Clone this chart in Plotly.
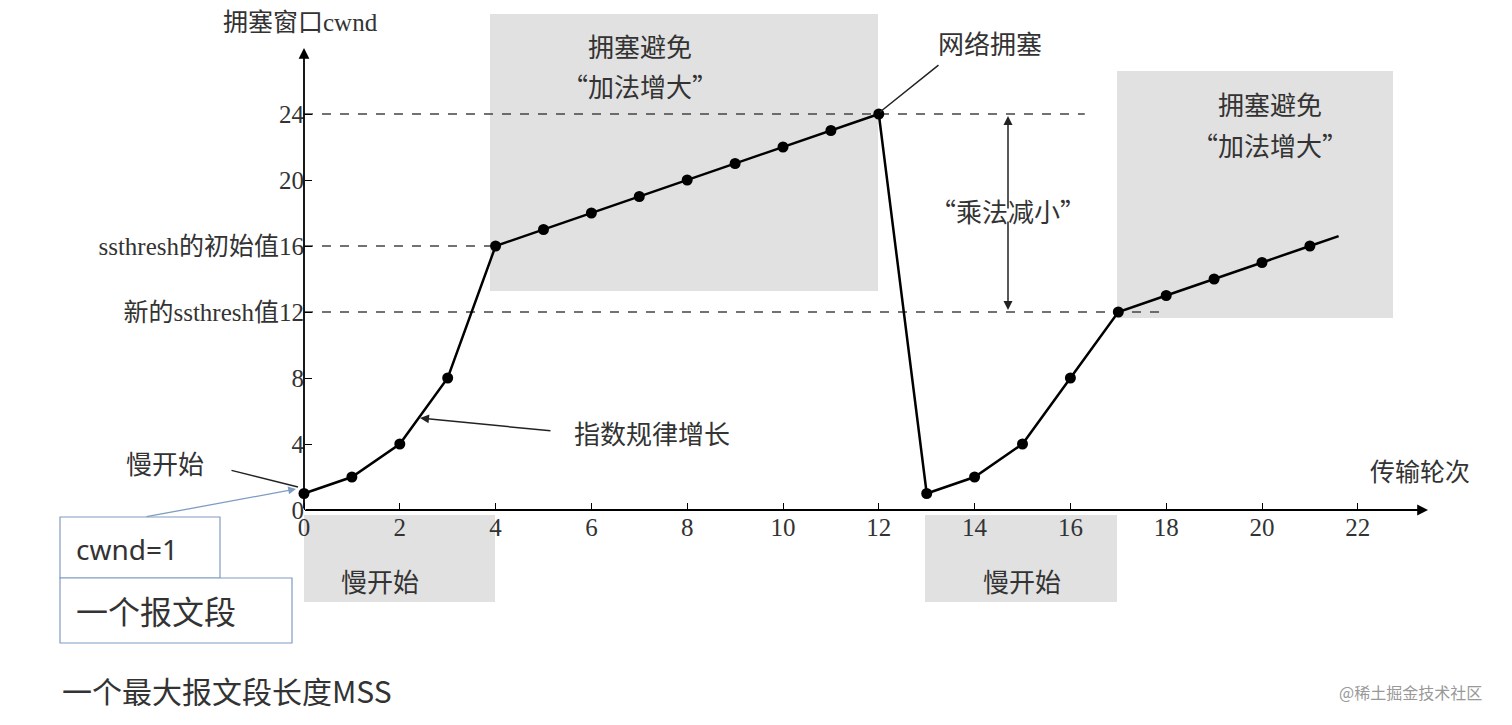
import plotly.graph_objects as go

# transmission rounds and cwnd values
rounds = [0, 1, 2, 3, 4, 5, 6, 7, 8, 9, 10, 11, 12, 13, 14, 15, 16, 17, 18, 19, 20, 21]
cwnd = [1, 2, 4, 8, 16, 17, 18, 19, 20, 21, 22, 23, 24, 1, 2, 4, 8, 12, 13, 14, 15, 16]
tail_x = [21, 21.6]
tail_y = [16, 16.6]

x_ticks = [0, 2, 4, 6, 8, 10, 12, 14, 16, 18, 20, 22]
y_ticks = [0, 4, 8, 12, 16, 20, 24]
y_ticktext = ["0", "4", "8", "新的ssthresh值12", "ssthresh的初始值16", "20", "24"]

W, H = 1512, 725
# screen pixel -> data helpers (x=0 at px 304, y=0 at px 510 on screen)
sx, sy = 47.9, 16.5
OX, OY = 296, 502  # origin in figure coordinates (page adds 8px offset)
def X(px):
    return (px - 304) / sx
def Y(py):
    return (510 - py) / sy

SERIF = "Liberation Serif, Noto Sans CJK SC"
CJK = "Noto Sans CJK SC"
TXT = "#333333"

fig = go.Figure()

# gray regions
regions = [(490, 14, 878, 291), (1117, 71, 1393, 318), (304, 515, 495, 602), (925, 515, 1117, 602)]
for x0, y0, x1, y1 in regions:
    fig.add_shape(type="rect", x0=X(x0), x1=X(x1), y0=Y(y0), y1=Y(y1),
                  fillcolor="#e1e1e1", line_width=0, layer="below")

# dashed reference lines
for yv, xend in [(24, 16.3), (16, 4), (12, 17.9)]:
    fig.add_shape(type="line", x0=0, x1=xend, y0=yv, y1=yv,
                  line=dict(color="#444", width=1.5, dash="dash"), layer="below")

fig.add_trace(go.Scatter(x=rounds, y=cwnd, mode="lines+markers",
                         line=dict(color="black", width=2.5),
                         marker=dict(color="black", size=11), hoverinfo="x+y"))
fig.add_trace(go.Scatter(x=tail_x, y=tail_y, mode="lines",
                         line=dict(color="black", width=2.5), hoverinfo="skip"))

def arrow(x0, y0, x1, y1, color="#222", width=1.5, head=2):
    fig.add_annotation(x=X(x1), y=Y(y1), ax=X(x0), ay=Y(y0), xref="x", yref="y",
                       axref="x", ayref="y", text="", showarrow=True, arrowhead=head,
                       arrowsize=1.2, arrowwidth=width, arrowcolor=color)

def label(px, py, text, size=26, family=CJK, color=TXT, xanchor="center"):
    fig.add_annotation(x=X(px), y=Y(py), text=text, showarrow=False, xanchor=xanchor,
                       font=dict(size=size, family=family, color=color))

# axes arrows
arrow(304, 510, 1428, 510, color="black", width=1.8)
arrow(304, 510, 304, 48, color="black", width=1.8)

# multiplicative decrease double arrow
arrow(1008, 210, 1008, 116)
arrow(1008, 220, 1008, 310)
label(1008, 210, "“乘法减小”")

arrow(940, 64, 880, 112, head=0)
label(990, 42, "网络拥塞")
arrow(552, 431, 420, 418)
label(652, 432, "指数规律增长")
arrow(230, 470, 298, 487, head=0)
label(165, 462, "慢开始")
label(640, 45, "拥塞避免")
label(640, 85, "“加法增大”")
label(1270, 103, "拥塞避免")
label(1270, 144, "“加法增大”")
label(380, 580, "慢开始")
label(1022, 580, "慢开始")
label(300, 22, "拥塞窗口cwnd", size=25, family=SERIF)
label(1420, 470, "传输轮次", size=25)

# cwnd=1 explanation boxes
fig.add_shape(type="rect", x0=X(60), x1=X(220), y0=Y(517), y1=Y(578),
              line=dict(color="#7f9cc0", width=1.2), fillcolor="white")
fig.add_shape(type="rect", x0=X(60), x1=X(292), y0=Y(578), y1=Y(643),
              line=dict(color="#7f9cc0", width=1.2), fillcolor="white")
label(74, 549, "cwnd=1", size=28, family="Noto Sans", xanchor="left")
label(74, 610, "一个报文段", size=32, xanchor="left")
arrow(145, 517, 296, 489, color="#7f9cc0", width=1.3)
label(60, 690, "一个最大报文段长度MSS", size=30, xanchor="left")
label(1410, 692, "@稀土掘金技术社区", size=16, color="#999999")

fig.update_layout(
    width=W, height=H,
    margin=dict(l=0, r=0, t=0, b=0),
    plot_bgcolor="white", paper_bgcolor="white",
    showlegend=False,
    xaxis=dict(range=[-OX / sx, (W - OX) / sx], domain=[0, 1], anchor="free",
               position=(H - OY) / H,
               tickvals=x_ticks, ticks="inside", ticklen=7, tickcolor="black",
               showgrid=False, zeroline=False, showline=False,
               tickfont=dict(size=25, family=SERIF, color=TXT)),
    yaxis=dict(range=[(OY - H) / sy, OY / sy], domain=[0, 1], anchor="free",
               position=OX / W,
               tickvals=y_ticks, ticktext=y_ticktext, ticks="inside", ticklen=7,
               tickcolor="black", showgrid=False, zeroline=False, showline=False,
               tickfont=dict(size=25, family=SERIF, color=TXT)),
)

fig.write_html("out.html")
